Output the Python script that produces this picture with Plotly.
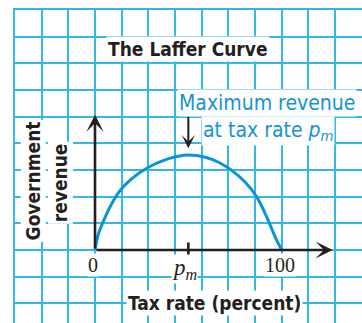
import plotly.graph_objects as go

# ---- data ----
tax_rate = [0, 1.8, 5.4, 8.9, 13.4, 19.6, 28.6, 37.5, 44.6, 50, 59.1, 66.2, 73.4, 80.5, 86.8, 92.1, 96.6, 100]
revenue = [0, 8.6, 17.5, 24.7, 31.8, 38.1, 44.3, 48.3, 50.2, 50.9, 49.7, 47.0, 42.5, 36.3, 28.2, 17.5, 6.8, 0]
p_m = 50
x_tick_labels = ["0", "100"]
x_tick_values = [0, 100]

GRID = "#34b8ea"
CURVE = "#0a94d8"
TEXTBLUE = "#1593d6"
INK = "#231f20"
NARROW = "Liberation Sans Narrow, Arial Narrow, DejaVu Sans Condensed, Arial, sans-serif"
SERIF = "Liberation Serif, Times New Roman, serif"

cell = 100 / 7
fig = go.Figure()
fig.add_trace(go.Scatter(x=tax_rate, y=revenue, mode="lines",
                         line=dict(color=CURVE, width=3, shape="spline", smoothing=0.8),
                         hoverinfo="skip", showlegend=False))

# axes as arrows
fig.add_annotation(x=127.3, y=0, ax=0, ay=0, xref="x", yref="y", axref="x", ayref="y",
                   showarrow=True, arrowhead=3, arrowsize=1.1, arrowwidth=2.6, arrowcolor=INK, text="")
fig.add_annotation(x=0, y=72.5, ax=0, ay=0, xref="x", yref="y", axref="x", ayref="y",
                   showarrow=True, arrowhead=3, arrowsize=1.1, arrowwidth=2.6, arrowcolor=INK, text="")
# pointer to maximum
fig.add_annotation(x=p_m, y=54.5, ax=p_m, ay=72.3, xref="x", yref="y", axref="x", ayref="y",
                   showarrow=True, arrowhead=3, arrowsize=1.1, arrowwidth=2, arrowcolor=INK, text="")
# p_m tick
fig.add_shape(type="line", x0=p_m, x1=p_m, y0=-4, y1=4, xref="x", yref="y",
              line=dict(color=INK, width=2.6))

def label(text, x, y, font, size, color, angle=0, pad=1):
    fig.add_annotation(x=x, y=y, xref="x", yref="y", text=text, showarrow=False,
                       font=dict(family=font, size=size, color=color), textangle=angle,
                       bgcolor="white", borderpad=pad)

label("<b>The Laffer Curve</b>", 49.9, 107.8, NARROW, 19, INK)
label("<b>Government</b>", -33.3, 37.2, NARROW, 19, INK, angle=-90)
label("<b>revenue</b>", -18.3, 36.2, NARROW, 19, INK, angle=-90)
label("Maximum revenue", 92, 79.0, NARROW, 21, TEXTBLUE)
label("at tax rate <i>p<sub>m</sub></i>", 92.9, 63.5, NARROW, 21, TEXTBLUE)
for t, v in zip(x_tick_labels, x_tick_values):
    label(t, v - 0.9, -8.0, SERIF, 20, INK, pad=0)
label("<i>p<sub>m</sub></i>", p_m - 1.8, -10.3, SERIF, 23, INK, pad=0)
label("<b>Tax rate (percent)</b>", 63.75, -28.4, NARROW, 19, INK)

s = 26.667 / cell  # px per unit
W, H = 362, 323
L, T = 15, 10
xr = [-3 * cell, -3 * cell + (W - L) / s]
yr = [9 * cell - (H - T) / s, 9 * cell]
fig.update_xaxes(range=xr, tick0=0, dtick=cell, showgrid=True, gridcolor=GRID, gridwidth=1.5,
                 zeroline=False, showticklabels=False, ticks="", showline=True, linecolor=GRID,
                 linewidth=1.5, side="top", fixedrange=True)
fig.update_yaxes(range=yr, tick0=0, dtick=cell, showgrid=True, gridcolor=GRID, gridwidth=1.5,
                 zeroline=False, showticklabels=False, ticks="", showline=True, linecolor=GRID,
                 linewidth=1.5, fixedrange=True)
fig.update_layout(width=W, height=H, margin=dict(l=L, r=0, t=T, b=0, pad=0),
                  plot_bgcolor="white", paper_bgcolor="white", showlegend=False)
fig.write_html("out.html", config={"displayModeBar": False},
               post_script="document.body.style.margin='0';document.body.style.padding='0';")
